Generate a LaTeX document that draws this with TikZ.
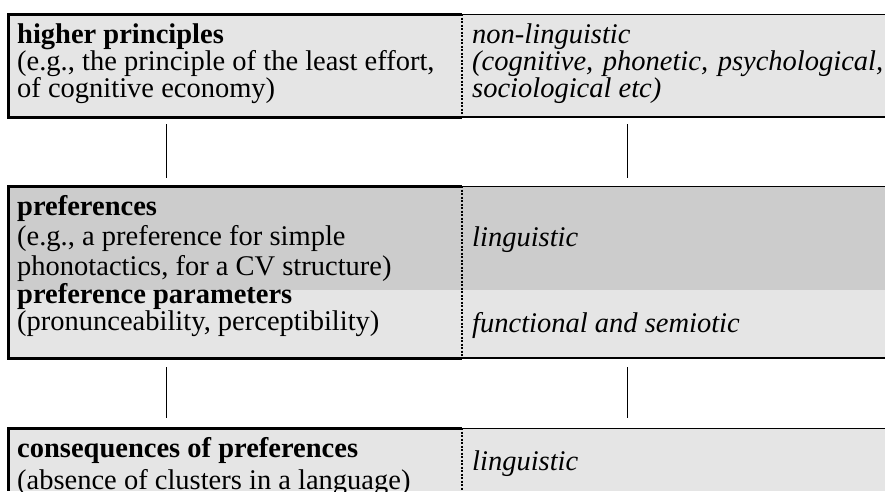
\documentclass[tikz,border=0pt]{standalone}
\usepackage{fontspec}
\setmainfont{Liberation Serif}
\usepackage{tikz}
\usetikzlibrary{calc}
\usetikzlibrary{positioning}
\tikzset{
	lightstyle/.style={rectangle,anchor=north west,inner sep=0pt,outer sep=0pt,fill=white!90!black},
	darkstyle/.style={rectangle,anchor=north west,inner sep=0pt,outer sep=0pt,fill=white!80!black},
	textstyle/.style={anchor=base west,inner sep=0pt,align=left,font=\fontsize{28.5}{27}\selectfont},
	heavyline/.style={line width=3pt},
	thinline/.style={line width=1pt},
	midline/.style={line width=2pt},
	dividerline/.style={line width=2pt,dash pattern=on 2pt off 1.5pt},
	connector/.style={line width=1pt}
}

\begin{document}
\begin{tikzpicture}[x=1pt,y=1pt]
		\useasboundingbox (0,0) rectangle (885,-491);
		% cells
		\node[lightstyle,minimum width=454pt,minimum height=103pt] (hpl) at (8,-14) {};
		\node[lightstyle,minimum width=423pt,minimum height=103pt] (hpr) at (462,-14) {};
		\node[darkstyle,minimum width=454pt,minimum height=104pt] (prefl) at (8,-186) {};
		\node[darkstyle,minimum width=423pt,minimum height=104pt] (prefr) at (462,-186) {};
		\node[lightstyle,minimum width=454pt,minimum height=68pt] (parl) at (8,-290) {};
		\node[lightstyle,minimum width=423pt,minimum height=68pt] (parr) at (462,-290) {};
		\node[lightstyle,minimum width=454pt,minimum height=63pt] (consl) at (8,-428) {};
		\node[lightstyle,minimum width=423pt,minimum height=63pt] (consr) at (462,-428) {};
		% texts (anchored at the baseline of the last line)
		\node[textstyle] (hptext) at (17,-97) {\textbf{higher principles}\\(e.g., the principle of the least effort,\\of cognitive economy)};
		\node[textstyle] (nltext) at (472,-97) {\itshape non-linguistic\\\makebox[411pt][s]{\itshape (cognitive, phonetic, psychological,}\\\itshape sociological etc)};
		\node[textstyle,font=\fontsize{28.5}{30}\selectfont] (preftext) at (17,-275) {\textbf{preferences}\\(e.g., a preference for simple\\phonotactics, for a CV structure)};
		\node[textstyle] (lingtext) at (472,-246) {\itshape linguistic};
		\node[textstyle] (partext) at (17,-330) {\textbf{preference parameters}\\(pronunceability, perceptibility)};
		\node[textstyle] (fstext) at (472,-332) {\itshape functional and semiotic};
		\node[textstyle,font=\fontsize{28.5}{32}\selectfont] (constext) at (17,-489) {\textbf{consequences of preferences}\\(absence of clusters in a language)};
		\node[textstyle] (linglow) at (472,-470) {\itshape linguistic};
		% borders
		\draw[heavyline] (hpl.north east) -- (hpl.north west) -- (hpl.south west) -- (hpl.south east);
		\draw[thinline] (hpr.north west) -- (hpr.north east);
		\draw[midline] (hpr.south west) -- (hpr.south east);
		\draw[dividerline] (hpl.north east) -- (hpl.south east);
		\draw[heavyline] (prefl.north east) -- (prefl.north west) -- (parl.south west) -- (parl.south east);
		\draw[thinline] (prefr.north west) -- (prefr.north east);
		\draw[midline] (parr.south west) -- (parr.south east);
		\draw[dividerline] (prefl.north east) -- (parl.south east);
		\draw[heavyline] (consl.north east) -- (consl.north west) -- (consl.south west);
		\draw[thinline] (consr.north west) -- (consr.north east);
		\draw[dividerline] (consl.north east) -- (consl.south east);
		% connectors
		\coordinate (lx) at (166,0);
		\coordinate (rx) at (627,0);
		\draw[connector,shorten <=7pt,shorten >=8pt] (hpl.south -| lx) -- (prefl.north -| lx);
		\draw[connector,shorten <=7pt,shorten >=8pt] (hpr.south -| rx) -- (prefr.north -| rx);
		\draw[connector,shorten <=9pt,shorten >=10pt] (parl.south -| lx) -- (consl.north -| lx);
		\draw[connector,shorten <=9pt,shorten >=10pt] (parr.south -| rx) -- (consr.north -| rx);
		\end{tikzpicture}
\end{document}
